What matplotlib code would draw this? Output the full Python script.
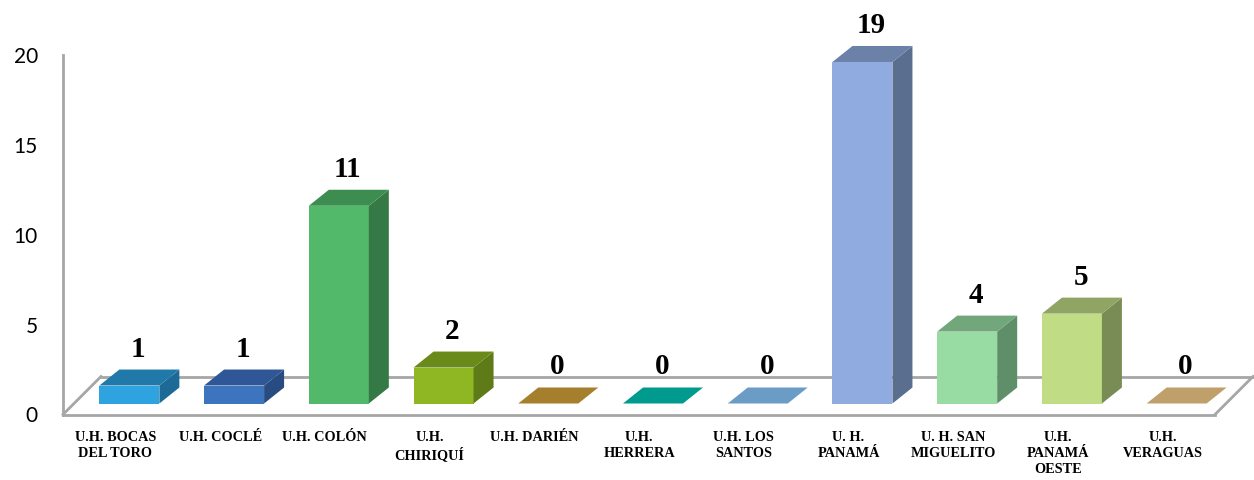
import matplotlib.pyplot as plt
from matplotlib.patches import Polygon

# Data
categories = ['U.H. BOCAS\nDEL TORO', 'U.H. COCLÉ', 'U.H. COLÓN', 'U.H.\nCHIRIQUÍ',
              'U.H. DARIÉN', 'U.H.\nHERRERA', 'U.H. LOS\nSANTOS', 'U. H.\nPANAMÁ',
              'U. H. SAN\nMIGUELITO', 'U.H.\nPANAMÁ\nOESTE', 'U.H.\nVERAGUAS']
values = [1, 1, 11, 2, 0, 0, 0, 19, 4, 5, 0]

front_colors = ['#2EA3E0', '#3D74BE', '#52B96A', '#8EB723', '#A67F2C', '#019A8E',
                '#6A9CC6', '#8FABE0', '#98DCA3', '#C0DC85', '#BFA06A']
top_colors = ['#2079A8', '#2F5797', '#3D8C50', '#6A8A1A', '#A67F2C', '#019A8E',
              '#6A9CC6', '#6C81A8', '#72A67B', '#90A464', '#BFA06A']
side_colors = ['#1D6A96', '#284B82', '#357A46', '#5F7B17', '#A67F2C', '#019A8E',
               '#6A9CC6', '#5A6F90', '#5F8F68', '#7A8C55', '#BFA06A']

yticks = [0, 5, 10, 15, 20]

# 3d look, offsets in pixels
bar_shift = (14, 11)     # bar plane relative to front of floor
bar_depth = (20, 16)     # depth of each bar
floor_depth = (38, 38)   # depth of the floor
bar_width = 0.573
grey = '#A6A6A6'

fig = plt.figure(figsize=(12.54, 4.8), dpi=100)
ax = fig.add_axes([63 / 1254, 65.5 / 480, 1152 / 1254, 359.5 / 480])
ax.set_xlim(-0.5, len(categories) - 0.5)
ax.set_ylim(0, 20)


def shift(x, y, d):
    # move a data point by d pixels on screen
    px = ax.transData.transform((x, y))
    return tuple(ax.transData.inverted().transform((px[0] + d[0], px[1] + d[1])))


def poly(pts, color, z):
    ax.add_patch(Polygon(pts, closed=True, facecolor=color, edgecolor='none',
                         zorder=z, clip_on=False))


# floor
x0, x1 = -0.5, len(categories) - 0.5
fl = shift(x0, 0, floor_depth)
fr = shift(x1, 0, floor_depth)
ax.plot([x0, fl[0]], [0, fl[1]], color=grey, lw=2, zorder=1, clip_on=False)
ax.plot([fl[0], fr[0]], [fl[1], fr[1]], color=grey, lw=2, zorder=1, clip_on=False)
ax.plot([x1, fr[0]], [0, fr[1]], color=grey, lw=2, zorder=1, clip_on=False)

# bars
for i, v in enumerate(values):
    a = shift(i - bar_width / 2, 0, bar_shift)
    b = shift(i + bar_width / 2, 0, bar_shift)
    c = shift(i + bar_width / 2, v, bar_shift)
    d = shift(i - bar_width / 2, v, bar_shift)
    cb = shift(c[0], c[1], bar_depth)
    db = shift(d[0], d[1], bar_depth)
    bb = shift(b[0], b[1], bar_depth)
    if v > 0:
        poly([a, b, c, d], front_colors[i], 3)
        poly([b, bb, cb, c], side_colors[i], 3)
        poly([d, c, cb, db], top_colors[i], 3)
    else:
        poly([d, c, cb, db], front_colors[i], 3)
    lab = shift(i, v, (bar_shift[0] + 9, bar_shift[1] + 29))
    ax.text(lab[0], lab[1], str(v), ha='center', va='baseline',
            fontsize=21, fontweight='bold', family='Liberation Serif', zorder=5)

# axes styling
for s in ['top', 'right']:
    ax.spines[s].set_visible(False)
for s in ['left', 'bottom']:
    ax.spines[s].set_color(grey)
    ax.spines[s].set_linewidth(2)
ax.set_yticks(yticks)
ax.set_yticklabels([str(t) for t in yticks], family='Lato', fontsize=15)
ax.tick_params(axis='y', length=0, pad=18)
ax.set_xticks(range(len(categories)))
ax.set_xticklabels(categories, family='Liberation Serif', fontweight='bold',
                   fontsize=10.3, linespacing=1.3)
ax.tick_params(axis='x', length=0, pad=12)
ax.patch.set_visible(False)

fig.savefig('out.png', dpi=100)
